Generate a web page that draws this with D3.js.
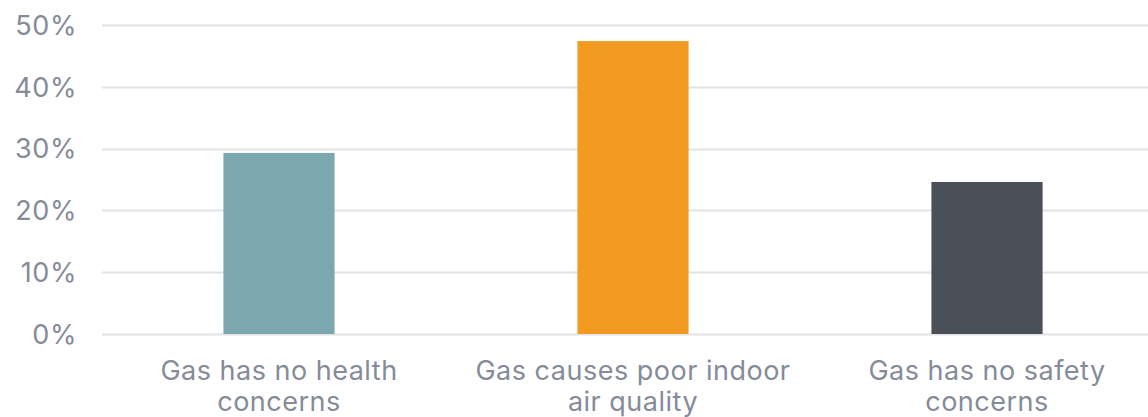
<!DOCTYPE html>
<html>
<head>
<meta charset="utf-8">
<script src="https://cdn.jsdelivr.net/npm/d3@7"></script>
<style>
  html, body { margin: 0; padding: 0; background: #fff; }
  svg { display: block; }
  text { font-family: Inter, "Noto Sans", sans-serif; }
</style>
</head>
<body>
<svg id="chart" width="1148" height="417"></svg>
<script>
const categories = [
  ["Gas has no health", "concerns"],
  ["Gas causes poor indoor", "air quality"],
  ["Gas has no safety", "concerns"]
];
const values = [0.293, 0.474, 0.246];
const colors = ["#7BA7AF", "#F39A22", "#4A4F58"];
const yTicks = [0, 0.1, 0.2, 0.3, 0.4, 0.5];

const svg = d3.select("#chart");
const margin = { left: 102, right: -16, top: 25, bottom: 83 };
const W = 1148, H = 417;

const x = d3.scaleBand()
  .domain(d3.range(categories.length))
  .range([margin.left, W - margin.right])
  .paddingInner(0.686)
  .paddingOuter(0.343);

const y = d3.scaleLinear()
  .domain([0, 0.5])
  .range([H - margin.bottom, margin.top]);

// horizontal gridlines
svg.append("g")
  .selectAll("line")
  .data(yTicks)
  .join("line")
  .attr("x1", margin.left)
  .attr("x2", W)
  .attr("y1", d => Math.round(y(d)) + 0.5)
  .attr("y2", d => Math.round(y(d)) + 0.5)
  .attr("stroke", "#E2E2E7")
  .attr("stroke-width", 2);

// y-axis labels
svg.append("g")
  .selectAll("text")
  .data(yTicks)
  .join("text")
  .attr("x", 77)
  .attr("y", d => y(d))
  .attr("dy", "0.36em")
  .attr("text-anchor", "end")
  .attr("fill", "#858B98")
  .attr("font-size", 27)
  .attr("letter-spacing", 0.6)
  .text(d3.format(".0%"));

// bars
svg.append("g")
  .selectAll("rect")
  .data(values)
  .join("rect")
  .attr("x", (d, i) => x(i))
  .attr("width", x.bandwidth())
  .attr("y", d => y(d))
  .attr("height", d => y(0) - y(d))
  .attr("fill", (d, i) => colors[i]);

// category labels
const lab = svg.append("g")
  .selectAll("text")
  .data(categories)
  .join("text")
  .attr("text-anchor", "middle")
  .attr("fill", "#858B98")
  .attr("font-size", 27)
  .attr("letter-spacing", 0.5)
  .attr("x", (d, i) => x(i) + x.bandwidth() / 2)
  .attr("y", 380);
lab.selectAll("tspan")
  .data(d => d)
  .join("tspan")
  .attr("x", function () { return this.parentNode.getAttribute("x"); })
  .attr("dy", (d, j) => j === 0 ? 0 : 31)
  .text(d => d);
</script>
</body>
</html>
